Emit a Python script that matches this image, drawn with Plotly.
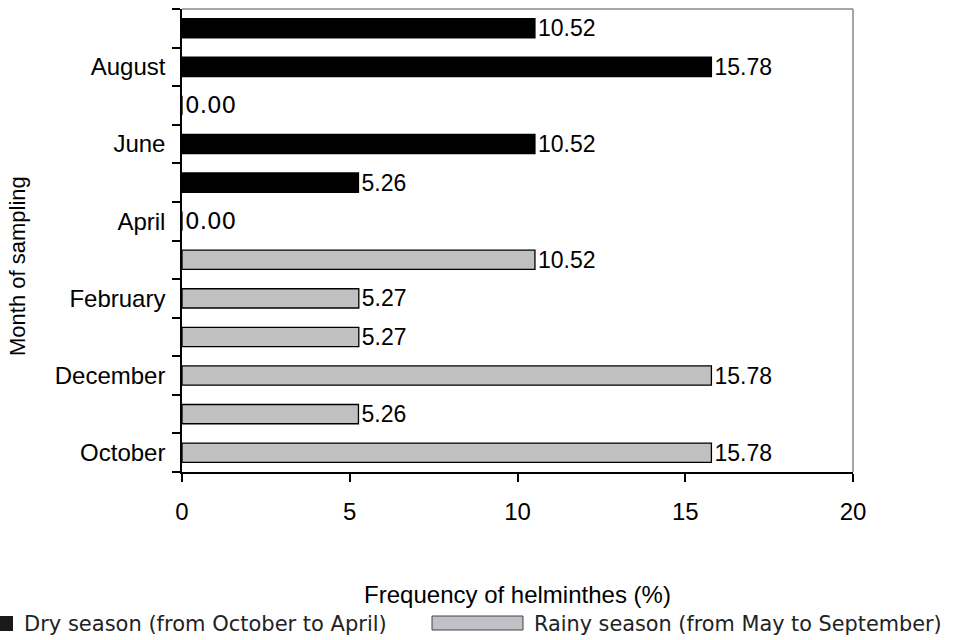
import plotly.graph_objects as go

months = ["October", "November", "December", "January", "February", "March",
          "April", "May", "June", "July", "August", "September"]
values = [15.78, 5.26, 15.78, 5.27, 5.27, 10.52, 0.00, 5.26, 10.52, 0.00, 15.78, 10.52]
labeled = ["October", "December", "February", "April", "June", "August"]
gray_months = months[:6]
black_months = months[6:]
gray_values = values[:6]
black_values = values[6:]
legend_dry = "Dry season (from October to April)"
legend_rainy = "Rainy season (from May to September)"
xticks = [0, 5, 10, 15, 20]

# plot area in page pixels: x 182..853, y 9..472
PL, PR, PT, PB = 182, 853, 9, 472
def px(x):
    return (x - PL) / (PR - PL)
def py(y):
    return (PB - y) / (PB - PT)

def lab_fonts(vals):
    return ["DejaVu Sans" if v == 0 else "Liberation Sans, Arial" for v in vals]

fig = go.Figure()
fig.add_trace(go.Bar(
    y=gray_months, x=gray_values, orientation="h",
    marker=dict(color="#c0c0c0", line=dict(color="black", width=1.3)),
    text=[f"{v:.2f}" for v in gray_values], textposition="outside",
    constraintext="none",
    textfont=dict(size=23, color="black", family=lab_fonts(gray_values)),
    cliponaxis=False, showlegend=False,
))
fig.add_trace(go.Bar(
    y=black_months, x=black_values, orientation="h",
    marker=dict(color="black", line=dict(color="black", width=1.3)),
    text=[f"{v:.2f}" for v in black_values], textposition="outside",
    constraintext="none",
    textfont=dict(size=23, color="black", family=lab_fonts(black_values)),
    cliponaxis=False, showlegend=False,
))

fig.update_layout(
    width=956, height=640,
    margin=dict(l=PL, r=956 - PR, t=PT, b=640 - PB, autoexpand=False),
    plot_bgcolor="white", paper_bgcolor="white",
    bargap=0.5,
    font=dict(family="Liberation Sans, Arial", color="black"),
    xaxis=dict(
        range=[0, 20], tickvals=xticks, ticks="outside", ticklen=8,
        tickcolor="black", tickwidth=1.5, showgrid=False, zeroline=False,
        showline=True, linecolor="black", linewidth=1.5,
        tickfont=dict(size=24), ticklabelstandoff=9,
        title=dict(text="Frequency of helminthes (%)", font=dict(size=24), standoff=63),
    ),
    yaxis=dict(
        type="category", categoryorder="array", categoryarray=months,
        tickvals=months, ticktext=[m if m in labeled else "" for m in months],
        tickson="boundaries", ticks="outside", ticklen=8, tickcolor="black",
        tickwidth=1.5, showgrid=False, zeroline=False,
        showline=True, linecolor="black", linewidth=1.5,
        tickfont=dict(size=24), ticklabelstandoff=10,
    ),
    shapes=[
        dict(type="line", xref="paper", yref="paper", x0=0, x1=1, y0=1, y1=1,
             line=dict(color="#888888", width=1.5)),
        dict(type="line", xref="paper", yref="paper", x0=1, x1=1, y0=0, y1=1,
             line=dict(color="#888888", width=1.5)),
        # legend swatches
        dict(type="rect", xref="paper", yref="paper",
             x0=px(0), x1=px(13), y0=py(631), y1=py(616),
             fillcolor="#1a1a1a", line=dict(width=0)),
        dict(type="rect", xref="paper", yref="paper",
             x0=px(432), x1=px(523), y0=py(630), y1=py(616),
             fillcolor="#c0c0c6", line=dict(color="#444444", width=1)),
    ],
    annotations=[
        dict(text="Month of sampling", xref="paper", yref="paper", textangle=-90,
             x=px(17), y=py(266), xanchor="center", yanchor="middle",
             showarrow=False, font=dict(size=22, color="black")),
        dict(text=legend_dry, xref="paper", yref="paper",
             x=px(22), y=py(624), xanchor="left", yanchor="middle",
             showarrow=False, font=dict(family="DejaVu Sans", size=21, color="#222")),
        dict(text=legend_rainy, xref="paper", yref="paper",
             x=px(532), y=py(624), xanchor="left", yanchor="middle",
             showarrow=False, font=dict(family="DejaVu Sans", size=20.8, color="#222")),
    ],
)

fig.write_html("out.html", config={"displayModeBar": False},
               post_script="document.body.style.margin='0';")
